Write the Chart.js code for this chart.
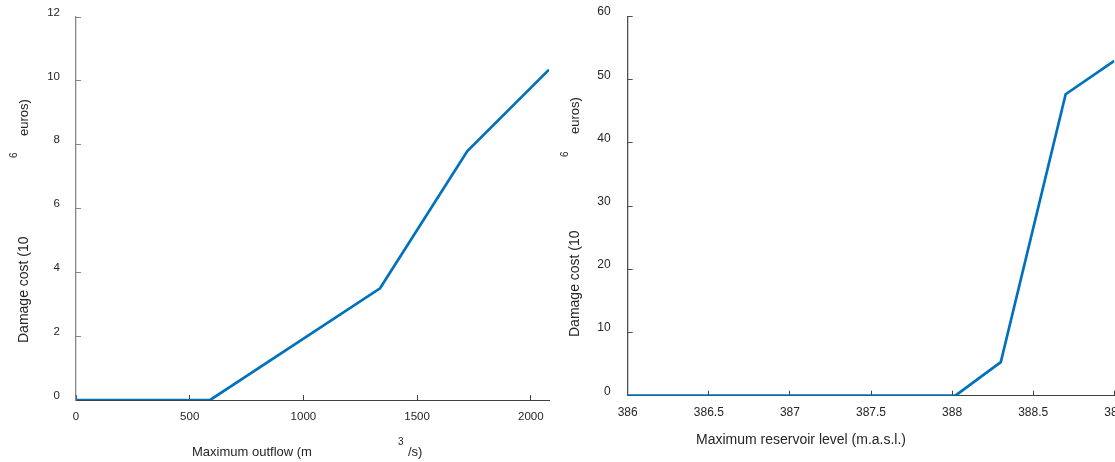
<!DOCTYPE html>
<html>
<head>
<meta charset="utf-8">
<script src="https://cdn.jsdelivr.net/npm/chart.js@4.4.0/dist/chart.umd.min.js"></script>
<style>
  html, body { margin: 0; padding: 0; background: #ffffff; overflow: hidden; width: 1115px; height: 462px; }
  canvas { position: absolute; top: 0; }
  #c1 { left: 0px; }
  #c2 { left: 557px; }
</style>
</head>
<body>
<canvas id="c1" width="560" height="462"></canvas>
<canvas id="c2" width="600" height="462"></canvas>
<script>
// ---- Data ----
// Left panel: damage cost vs maximum outflow
const outflowX = [0, 590, 1337, 1721, 2080];
const outflowCost = [0, 0, 3.5, 7.8, 10.35];
const outflowXTicks = [0, 500, 1000, 1500, 2000];
const outflowYTicks = [0, 2, 4, 6, 8, 10, 12];

// Right panel: damage cost vs maximum reservoir level
const levelX = [386, 388.02, 388.3, 388.7, 389];
const levelCost = [0, 0, 5.3, 47.7, 53];
const levelXTicks = [386, 386.5, 387, 387.5, 388, 388.5, 389];
const levelYTicks = [0, 10, 20, 30, 40, 50, 60];

// ---- Styling ----
const FONT = '"Liberation Sans", Arial, Helvetica, sans-serif';
const TEXT = '#262626';
const LINE = '#0072BD';

function pts(xs, ys) { return xs.map((x, i) => ({ x: x, y: ys[i] })); }

function titlePlugin(cfg) {
  return {
    id: 'axisTitles',
    afterDraw(chart) {
      const ctx = chart.ctx;
      ctx.save();
      ctx.fillStyle = TEXT;
      ctx.textBaseline = 'middle';
      cfg.x.forEach(p => {
        ctx.font = p.size + 'px ' + FONT;
        ctx.textAlign = p.align || 'left';
        ctx.fillText(p.text, p.px, p.py);
      });
      cfg.y.forEach(p => {
        ctx.save();
        ctx.translate(p.px, p.py);
        ctx.rotate(-Math.PI / 2);
        ctx.font = p.size + 'px ' + FONT;
        ctx.textAlign = 'left';
        ctx.fillText(p.text, 0, 0);
        ctx.restore();
      });
      ctx.restore();
    }
  };
}

function zeroPad(s) { s.paddingTop = 0; s.paddingBottom = 0; s.paddingLeft = 0; s.paddingRight = 0; }

function makeChart(id, o) {
  return new Chart(document.getElementById(id), {
    type: 'line',
    data: {
      datasets: [{
        data: pts(o.xs, o.ys),
        borderColor: LINE,
        borderWidth: 2.7,
        pointRadius: 0,
        tension: 0,
        fill: false
      }]
    },
    options: {
      responsive: false,
      animation: false,
      devicePixelRatio: 1,
      layout: { padding: o.padding },
      plugins: { legend: { display: false }, tooltip: { enabled: false } },
      scales: {
        x: {
          type: 'linear',
          min: o.xmin, max: o.xmax,
          afterFit: s => { s.height = o.xh; zeroPad(s); },
          afterBuildTicks: s => { s.ticks = o.xticks.map(v => ({ value: v })); },
          grid: { drawOnChartArea: false, drawTicks: true, tickLength: -5, color: o.axisColorX, lineWidth: 1 },
          border: { display: true, color: o.axisColorX, width: 1 },
          ticks: {
            padding: o.xpad, color: TEXT, maxRotation: 0, autoSkip: false,
            font: { family: FONT, size: o.tickSize },
            callback: v => String(v)
          }
        },
        y: {
          type: 'linear',
          min: o.ymin, max: o.ymax,
          afterFit: s => { s.width = o.yw; zeroPad(s); },
          afterBuildTicks: s => { s.ticks = o.yticks.map(v => ({ value: v })); },
          grid: { drawOnChartArea: false, drawTicks: true, tickLength: -5, color: o.axisColorY, lineWidth: 1 },
          border: { display: true, color: o.axisColorY, width: 1.3 },
          ticks: {
            padding: o.ypad, color: TEXT, labelOffset: -4.5, autoSkip: false,
            font: { family: FONT, size: o.tickSize },
            callback: v => String(v)
          }
        }
      }
    },
    plugins: [titlePlugin(o.titles)]
  });
}

makeChart('c1', {
  xs: outflowX, ys: outflowCost,
  xmin: 0, xmax: 2080, ymin: 0, ymax: 12,
  xticks: outflowXTicks, yticks: outflowYTicks,
  padding: { left: 0, right: 11, top: 17, bottom: 0 },
  xh: 62, yw: 76, xpad: 15, ypad: 21, tickSize: 11.5,
  axisColorX: '#404040', axisColorY: '#888888',
  titles: {
    x: [
      { text: 'Maximum outflow (m', px: 192, py: 452, size: 13 },
      { text: '3', px: 398, py: 442, size: 10 },
      { text: '/s)', px: 408, py: 452, size: 13 }
    ],
    y: [
      { text: 'Damage cost (10', px: 24, py: 343, size: 14 },
      { text: '6', px: 14, py: 158, size: 10 },
      { text: 'euros)', px: 24, py: 136, size: 13 }
    ]
  }
});

makeChart('c2', {
  xs: levelX, ys: levelCost,
  xmin: 386, xmax: 389, ymin: 0, ymax: 60,
  xticks: levelXTicks, yticks: levelYTicks,
  padding: { left: 0, right: 42.7, top: 16.5, bottom: 0 },
  xh: 66.3, yw: 70.7, xpad: 14.5, ypad: 22, tickSize: 12,
  axisColorX: '#404040', axisColorY: '#505050',
  titles: {
    x: [
      { text: 'Maximum reservoir level (m.a.s.l.)', px: 801 - 557, py: 440, size: 14, align: 'center' }
    ],
    y: [
      { text: 'Damage cost (10', px: 575 - 557, py: 337, size: 14 },
      { text: '6', px: 565 - 557, py: 157, size: 10 },
      { text: 'euros)', px: 575 - 557, py: 134, size: 13 }
    ]
  }
});
</script>
</body>
</html>
